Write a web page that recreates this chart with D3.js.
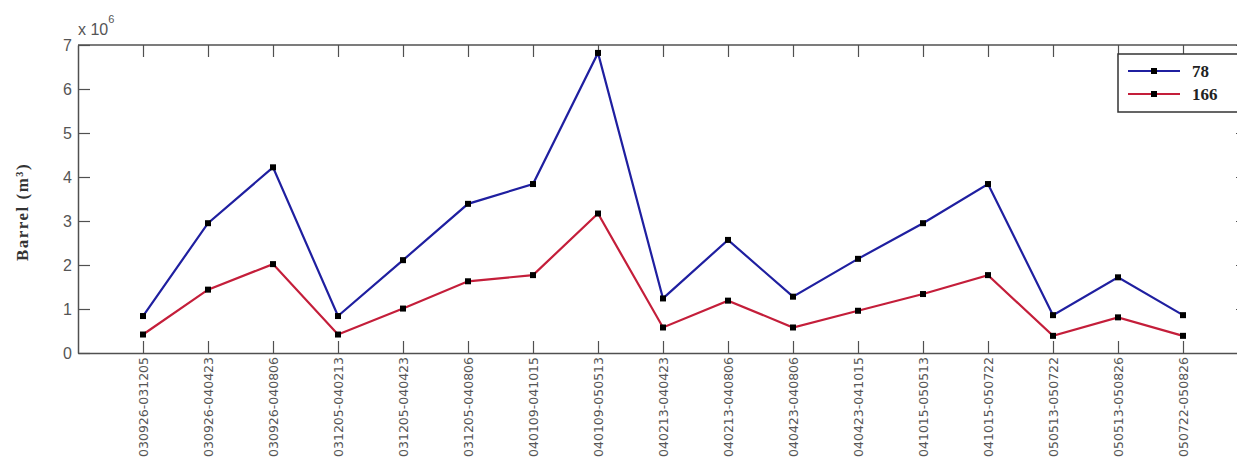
<!DOCTYPE html>
<html>
<head>
<meta charset="utf-8">
<script src="https://cdn.jsdelivr.net/npm/d3@7"></script>
<style>
  html, body { margin: 0; padding: 0; background: #fff; }
  svg { display: block; }
</style>
</head>
<body>
<svg id="chart" width="1237" height="462"></svg>
<script>
const categories = [
  "030926-031205", "030926-040423", "030926-040806", "031205-040213",
  "031205-040423", "031205-040806", "040109-041015", "040109-050513",
  "040213-040423", "040213-040806", "040423-040806", "040423-041015",
  "041015-050513", "041015-050722", "050513-050722", "050513-050826",
  "050722-050826"
];
const series78 = [0.84, 2.95, 4.22, 0.84, 2.11, 3.39, 3.84, 6.82, 1.24, 2.57, 1.28, 2.14, 2.95, 3.84, 0.86, 1.72, 0.86];
const series166 = [0.42, 1.44, 2.02, 0.42, 1.01, 1.63, 1.77, 3.17, 0.58, 1.19, 0.58, 0.96, 1.34, 1.77, 0.39, 0.81, 0.39];
const yTicks = [0, 1, 2, 3, 4, 5, 6, 7];
const seriesNames = ["78", "166"];
const seriesColors = ["#1f1fa0", "#c41e3a"];

(function () {
const svg = d3.select("#chart");
const mLeft = 78, mRight = 1248, mTop = 45, mBottom = 353;

const x = d3.scaleLinear().domain([0, categories.length + 1]).range([mLeft, mRight]);
const y = d3.scaleLinear().domain([0, 7]).range([mBottom, mTop]);

const axisColor = "#505050";

svg.append("line").attr("x1", mLeft).attr("x2", mRight).attr("y1", mTop).attr("y2", mTop)
  .attr("stroke", axisColor).attr("stroke-width", 1.5);
svg.append("line").attr("x1", mRight).attr("x2", mRight).attr("y1", mTop).attr("y2", mBottom)
  .attr("stroke", axisColor).attr("stroke-width", 1.5);

const gL = svg.append("g").attr("transform", `translate(${mLeft},0)`)
  .call(d3.axisLeft(y).tickValues(yTicks).tickSize(-12).tickPadding(6).tickSizeOuter(0).tickFormat(d3.format("d")));
gL.select(".domain").attr("stroke", axisColor).attr("stroke-width", 1.5);
gL.selectAll(".tick line").attr("stroke", axisColor).attr("stroke-width", 1.2);
gL.selectAll(".tick text").attr("fill", "#555").attr("font-family", "Liberation Sans, Arial, sans-serif").attr("font-size", 16);

const gR = svg.append("g").attr("transform", `translate(${mRight},0)`)
  .call(d3.axisRight(y).tickValues(yTicks).tickSize(-12).tickSizeOuter(0).tickFormat(""));
gR.select(".domain").remove();
gR.selectAll(".tick line").attr("stroke", axisColor).attr("stroke-width", 1.2);

const idx = categories.map((c, i) => i + 1);
const gB = svg.append("g").attr("transform", `translate(0,${mBottom})`)
  .call(d3.axisBottom(x).tickValues(idx).tickSize(-12).tickSizeOuter(0).tickPadding(4)
    .tickFormat(d => categories[d - 1]));
gB.select(".domain").attr("stroke", axisColor).attr("stroke-width", 1.5);
gB.selectAll(".tick line").attr("stroke", axisColor).attr("stroke-width", 1.2);
gB.selectAll(".tick text")
  .attr("fill", "#555")
  .attr("font-family", "DejaVu Sans, sans-serif")
  .attr("font-size", 12.5)
  .attr("text-anchor", "end")
  .attr("transform", "rotate(-90)")
  .attr("x", -4)
  .attr("y", 0)
  .attr("dy", "0.35em");

const gT = svg.append("g").attr("transform", `translate(0,${mTop})`)
  .call(d3.axisTop(x).tickValues(idx).tickSize(-12).tickSizeOuter(0).tickFormat(""));
gT.select(".domain").remove();
gT.selectAll(".tick line").attr("stroke", axisColor).attr("stroke-width", 1.2);

const ex = svg.append("text").attr("x", 78).attr("y", 35)
  .attr("fill", "#555").attr("font-family", "Liberation Sans, Arial, sans-serif").attr("font-size", 16);
ex.append("tspan").text("x 10");
ex.append("tspan").attr("font-size", 11).attr("dy", -12).text("6");

svg.append("text")
  .attr("transform", `translate(28,212) rotate(-90)`)
  .attr("text-anchor", "middle")
  .attr("font-family", "Liberation Serif, Times New Roman, serif")
  .attr("font-weight", "bold")
  .attr("font-size", 17)
  .attr("letter-spacing", 1.5)
  .attr("fill", "#333")
  .text("Barrel  (m³)");

const allSeries = [series78, series166];
const line = d3.line().x((d, i) => x(i + 1)).y(d => y(d));
allSeries.forEach((s, k) => {
  svg.append("path").datum(s).attr("d", line)
    .attr("fill", "none").attr("stroke", seriesColors[k]).attr("stroke-width", 2.2);
});
allSeries.forEach((s, k) => {
  svg.selectAll(null).data(s).enter().append("rect")
    .attr("x", (d, i) => x(i + 1) - 3).attr("y", d => y(d) - 3)
    .attr("width", 6).attr("height", 6).attr("fill", "#000");
});

const lg = svg.append("g");
lg.append("rect").attr("x", 1118).attr("y", 54).attr("width", 140).attr("height", 58)
  .attr("fill", "#fff").attr("stroke", "#333").attr("stroke-width", 1.5);
seriesNames.forEach((n, k) => {
  const yy = 71 + k * 23;
  lg.append("line").attr("x1", 1128).attr("x2", 1180).attr("y1", yy).attr("y2", yy)
    .attr("stroke", seriesColors[k]).attr("stroke-width", 2);
  lg.append("rect").attr("x", 1151).attr("y", yy - 3).attr("width", 6).attr("height", 6).attr("fill", "#000");
  lg.append("text").attr("x", 1192).attr("y", yy + 6)
    .attr("font-family", "Liberation Serif, Times New Roman, serif")
    .attr("font-weight", "bold").attr("font-size", 17).attr("fill", "#222").text(n);
});
})();
</script>
</body>
</html>
